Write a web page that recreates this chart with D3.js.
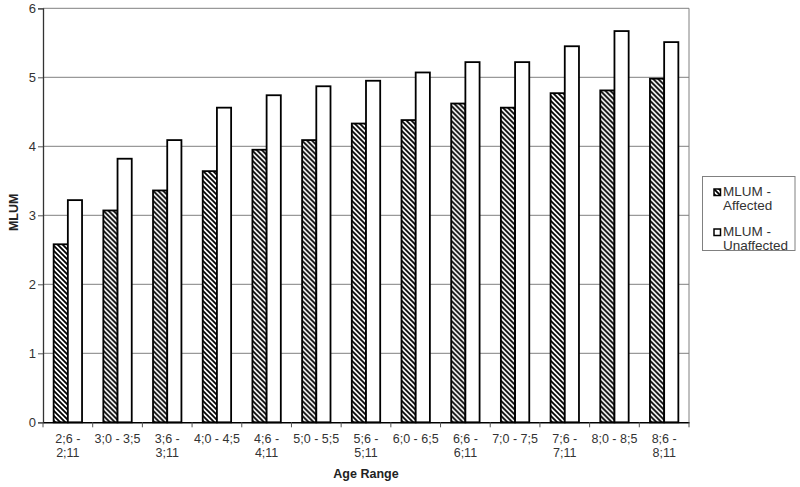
<!DOCTYPE html>
<html>
<head>
<meta charset="utf-8">
<script src="https://cdn.jsdelivr.net/npm/d3@7"></script>
<style>
  html, body { margin: 0; padding: 0; background: #fff; }
  svg { display: block; font-family: "Liberation Sans", Arial, sans-serif; }
</style>
</head>
<body>
<svg id="chart" width="800" height="487"></svg>
<script>
const categories = ["2;6 - 2;11", "3;0 - 3;5", "3;6 - 3;11", "4;0 - 4;5", "4;6 - 4;11",
  "5;0 - 5;5", "5;6 - 5;11", "6;0 - 6;5", "6;6 - 6;11", "7;0 - 7;5", "7;6 - 7;11",
  "8;0 - 8;5", "8;6 - 8;11"];
const seriesNames = ["MLUM - Affected", "MLUM - Unaffected"];
const affected   = [2.58, 3.07, 3.36, 3.64, 3.95, 4.09, 4.33, 4.38, 4.62, 4.56, 4.77, 4.81, 4.98];
const unaffected = [3.22, 3.82, 4.09, 4.56, 4.74, 4.87, 4.95, 5.07, 5.22, 5.22, 5.45, 5.67, 5.51];
const yTicks = [0, 1, 2, 3, 4, 5, 6];
const yTitle = "MLUM";
const xTitle = "Age Range";

(function () {
const svg = d3.select("#chart");
const pL = 43, pR = 689, pT = 8.3, pB = 422.3;

const defs = svg.append("defs");
const pat = defs.append("pattern")
  .attr("id", "hatch").attr("patternUnits", "userSpaceOnUse")
  .attr("width", 5).attr("height", 5);
pat.append("rect").attr("width", 5).attr("height", 5).attr("fill", "#fff");
pat.append("path").attr("d", "M-1,-1L6,6M-1,4L1,6M4,-1L6,1")
  .attr("stroke", "#000").attr("stroke-width", 1.8).attr("fill", "none");

const x0 = d3.scaleBand().domain(categories).range([pL, pR]).padding(0);
const w = x0.bandwidth() / 3.5;
const x1 = d3.scaleBand().domain(seriesNames).range([0.75 * w, 2.75 * w]).padding(0);
const y = d3.scaleLinear().domain([0, 6]).range([pB, pT]);

// gridlines
svg.append("g").selectAll("line").data(yTicks.filter(d => d > 0)).join("line")
  .attr("x1", pL).attr("x2", pR)
  .attr("y1", d => y(d)).attr("y2", d => y(d))
  .attr("stroke", "#808080").attr("stroke-width", 1);
// right border
svg.append("line").attr("x1", pR).attr("x2", pR).attr("y1", pT).attr("y2", pB)
  .attr("stroke", "#808080").attr("stroke-width", 1);

// bars
const data = categories.map((c, i) => ({c, vals: [affected[i], unaffected[i]]}));
const g = svg.append("g").selectAll("g").data(data).join("g")
  .attr("transform", d => `translate(${x0(d.c)},0)`);
g.selectAll("rect").data(d => d.vals.map((v, j) => ({s: seriesNames[j], v, j}))).join("rect")
  .attr("x", d => x1(d.s))
  .attr("width", x1.bandwidth())
  .attr("y", d => y(d.v))
  .attr("height", d => y(0) - y(d.v))
  .attr("fill", d => d.j === 0 ? "url(#hatch)" : "#fff")
  .attr("stroke", "#000").attr("stroke-width", 1.8);

// y axis
const yAxis = svg.append("g").attr("transform", `translate(${pL},0)`)
  .call(d3.axisLeft(y).tickValues(yTicks).tickSize(5).tickPadding(2).tickFormat(d3.format("d")));
yAxis.select(".domain").attr("stroke", "#333").attr("stroke-width", 1.3);
yAxis.selectAll(".tick line").attr("stroke", "#555");
yAxis.selectAll("text").attr("font-size", 13).attr("fill", "#333")
  .attr("font-family", "Liberation Sans, Arial, sans-serif");

// x axis
const xAxis = svg.append("g").attr("transform", `translate(0,${pB})`)
  .call(d3.axisBottom(x0).tickSize(0).tickPadding(14));
xAxis.select(".domain").attr("stroke", "#000").attr("stroke-width", 1.5);
xAxis.selectAll("text").attr("font-size", 12.5).attr("fill", "#333")
  .attr("font-family", "Liberation Sans, Arial, sans-serif")
  .each(function(d) {
    const t = d3.select(this);
    if (d.length > 9) {
      const parts = d.split(" - ");
      t.text(null).attr("dy", null).attr("y", 20.7);
      t.append("tspan").attr("x", 0).text(parts[0] + " -");
      t.append("tspan").attr("x", 0).attr("dy", 14).text(parts[1]);
    } else {
      t.attr("dy", null).attr("y", 20.7);
    }
  });
// boundary ticks
const bounds = categories.map(c => x0(c)).concat([x0(categories[categories.length - 1]) + x0.bandwidth()]);
svg.append("g").selectAll("line").data(bounds).join("line")
  .attr("x1", d => d).attr("x2", d => d)
  .attr("y1", pB).attr("y2", pB + 5)
  .attr("stroke", "#555").attr("stroke-width", 1);

// axis titles
svg.append("text").attr("x", (pL + pR) / 2).attr("y", 478)
  .attr("text-anchor", "middle").attr("font-weight", "bold").attr("font-size", 12.5)
  .attr("fill", "#222").text(xTitle);
svg.append("text").attr("transform", `translate(18,${(pT + pB) / 2 - 3}) rotate(-90)`)
  .attr("text-anchor", "middle").attr("font-weight", "bold").attr("font-size", 12.5)
  .attr("fill", "#222").text(yTitle);

// legend
const lg = svg.append("g");
lg.append("rect").attr("x", 702.5).attr("y", 176.5).attr("width", 92.5).attr("height", 74)
  .attr("fill", "#fff").attr("stroke", "#808080").attr("stroke-width", 1);
const items = seriesNames.map((s, j) => ({s, j}));
const li = lg.selectAll("g.item").data(items).join("g").attr("class", "item")
  .attr("transform", d => `translate(0,${d.j * 40})`);
li.append("rect").attr("x", 714).attr("y", 189).attr("width", 6.5).attr("height", 6.5)
  .attr("fill", d => d.j === 0 ? "url(#hatch)" : "#fff")
  .attr("stroke", "#000").attr("stroke-width", 1.5);
li.each(function(d) {
  const parts = d.s.split(" - ");
  const t = d3.select(this).append("text").attr("x", 723).attr("y", 196)
    .attr("font-size", 13.5).attr("fill", "#333");
  t.append("tspan").attr("x", 723).text(parts[0] + " -");
  t.append("tspan").attr("x", 723).attr("dy", 13.5).text(parts[1]);
});
})();
</script>
</body>
</html>
